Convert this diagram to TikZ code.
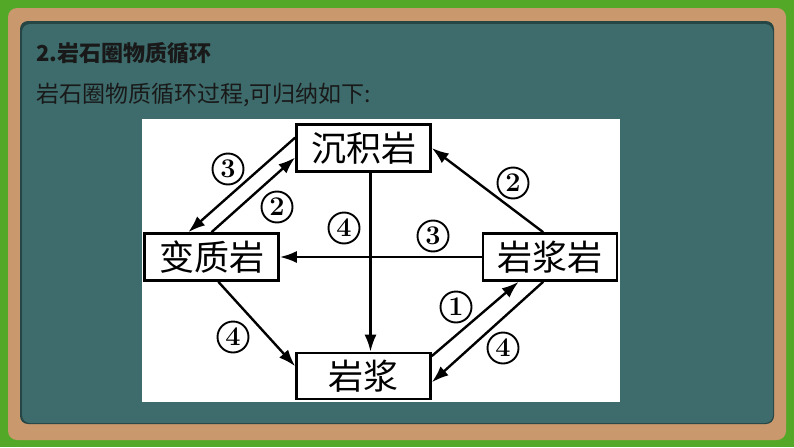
\documentclass[tikz,border=0pt]{standalone}
\usepackage{fontspec}
\newfontfamily\cjk{Noto Sans CJK SC}
\usetikzlibrary{arrows.meta,calc}
\definecolor{grass}{RGB}{84,168,40}
\definecolor{wood}{RGB}{201,152,108}
\definecolor{board}{RGB}{62,108,108}
\definecolor{boardshadow}{RGB}{38,70,70}
\begin{document}
\begin{tikzpicture}[x=1pt,y=-1pt,
  box/.style={draw=black, line width=2.6pt, fill=white, minimum width=134pt, minimum height=47pt, inner sep=0pt, font=\cjk\fontsize{35}{35}\selectfont},
  arr/.style={line width=2.4pt, -{Latex[length=17pt,width=12pt]}},
  num/.style={circle, draw=black, line width=1.9pt, minimum size=31pt, inner sep=0pt, font=\fontsize{27}{27}\selectfont\bfseries}]
\useasboundingbox (0,0) rectangle (794,447);
% background
\fill[grass] (0,0) rectangle (794,447);
\fill[wood, rounded corners=9pt] (8,8) rectangle (786,440);
\fill[boardshadow, rounded corners=8pt] (20,21) rectangle (774,424);
\fill[board, rounded corners=8pt] (22,24) rectangle (773,423);
\fill[white] (142,119) rectangle (620,402);
% texts
\node[anchor=west, inner sep=0pt, text=black!90, font=\cjk\bfseries\fontsize{22}{22}\selectfont] (title) at (36,53) {2.岩石圈物质循环};
\node[anchor=west, inner sep=0pt, text=black!90, font=\cjk\fontsize{23}{23}\selectfont] (sub) at (36,95) {岩石圈物质循环过程,可归纳如下:};
% boxes
\node[box] (cj) at (363.5,148) {沉积岩};
\node[box] (bz) at (211.5,257) {变质岩};
\node[box] (yjy) at (550,257) {岩浆岩};
\node[box, minimum height=46pt] (yj) at (363.5,376) {岩浆};
% arrows
\draw[arr] ($(cj.north west)!0.29!(cj.south west)$) -- ($(bz.north west)!0.33!(bz.north east)$);
\draw[arr] (bz.north) -- ($(cj.north west)!0.69!(cj.south west)$);
\draw[arr] ($(yjy.north west)!0.45!(yjy.north east)$) -- (cj.east);
\draw[arr] ([xshift=7pt]cj.south) -- ([xshift=7pt]yj.north);
\draw[arr] (yjy.west) -- (bz.east);
\draw[arr] ($(bz.south west)!0.55!(bz.south east)$) -- ($(yj.north west)!0.3!(yj.south west)$);
\draw[arr] ($(yj.north east)!0.09!(yj.south east)$) -- ($(yjy.south west)!0.27!(yjy.south east)$);
\draw[arr] ($(yjy.south west)!0.45!(yjy.south east)$) -- ($(yj.north east)!0.63!(yj.south east)$);
% labels
\node[num] (l1) at (228,169) {3};
\node[num] (l2) at (277,207) {2};
\node[num] (l3) at (344,228) {4};
\node[num] (l4) at (433,236) {3};
\node[num] (l5) at (513,183) {2};
\node[num] (l6) at (233,337) {4};
\node[num] (l7) at (456,307) {1};
\node[num] (l8) at (503,348) {4};
\end{tikzpicture}
\end{document}
